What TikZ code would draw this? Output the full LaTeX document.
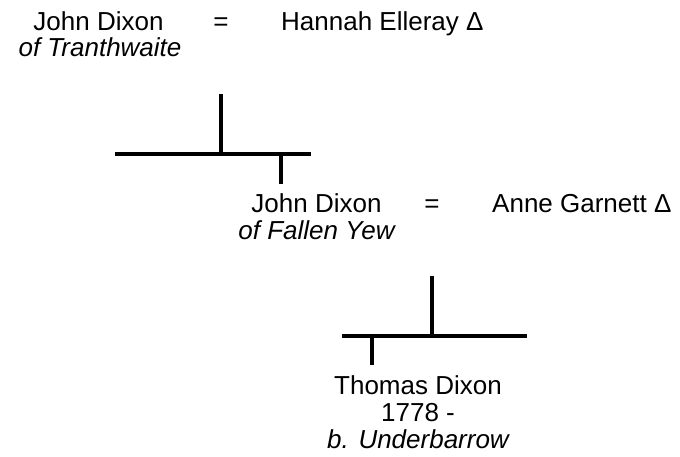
\documentclass[tikz,border=0pt]{standalone}
\usepackage{fontspec}
\setmainfont{Liberation Sans}
\begin{document}
\begin{tikzpicture}[x=1pt,y=-1pt,
  txt/.style={inner sep=0pt,anchor=base,font=\fontsize{26}{27}\selectfont},
  txtw/.style={txt,anchor=base west},
  place/.style={txt,font=\fontsize{26}{27}\selectfont\itshape},
  link/.style={line width=4pt,line cap=butt}]
\useasboundingbox (0,0) rectangle (680,456);
% generation 1
\node[txt]   (jd1)  at (98.5,30) {John Dixon};
\node[place] (jd1p) at (100,56) {of Tranthwaite};
\node[txt]   (eq1)  at (221,30) {=};
\node[txtw]  (he)   at (281,30) {Hannah Elleray Δ};
% generation 2
\node[txt]   (jd2)  at (316.5,212) {John Dixon};
\node[place] (jd2p) at (316.5,239) {of Fallen Yew};
\node[txt]   (eq2)  at (432,212) {=};
\node[txtw]  (ag)   at (492,212) {Anne Garnett Δ};
% generation 3
\node[txt]   (td)   at (418,394) {Thomas Dixon};
\node[txt]   (tdy)  at (418,421) {1778 -};
\node[place] (tdp)  at (418,448) {b. Underbarrow};
% lines of descent, generation 1 to 2
\coordinate (m1) at (221,94);
\coordinate (b1) at (221,154);
\coordinate (l1) at (115,154);
\coordinate (r1) at (311,154);
\coordinate (c1) at (281,154);
\coordinate (d1) at (281,184);
\draw[link] (m1) -- (b1);
\draw[link] (l1) -- (r1);
\draw[link] (c1) -- (d1);
% lines of descent, generation 2 to 3
\coordinate (m2) at (432,276);
\coordinate (b2) at (432,336);
\coordinate (l2) at (342,336);
\coordinate (r2) at (527,336);
\coordinate (c2) at (372,336);
\coordinate (d2) at (372,365);
\draw[link] (m2) -- (b2);
\draw[link] (l2) -- (r2);
\draw[link] (c2) -- (d2);
\end{tikzpicture}
\end{document}
